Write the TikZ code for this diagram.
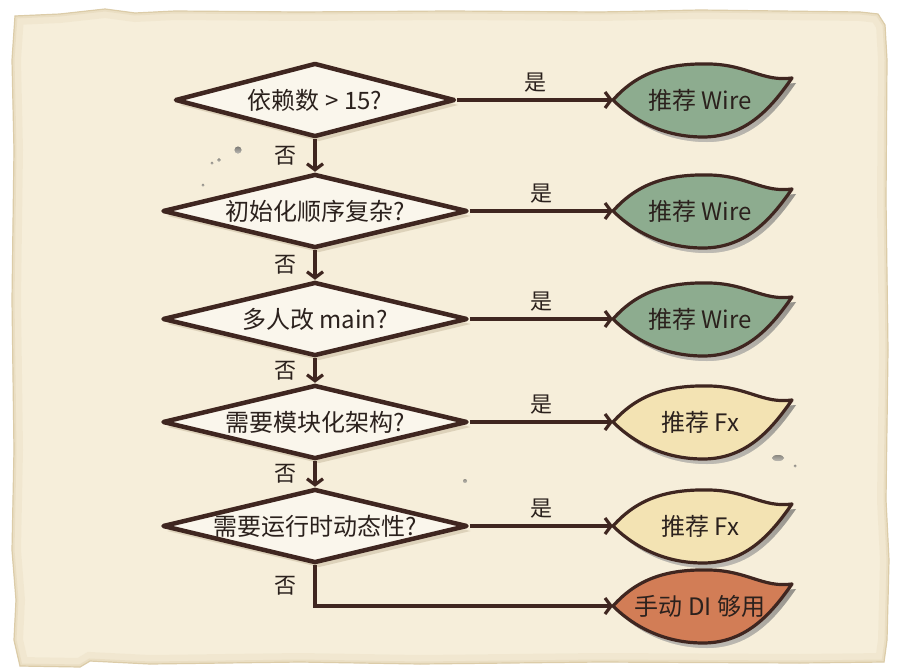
\documentclass[tikz,border=0pt]{standalone}
\usepackage{fontspec}
\setmainfont{Noto Sans CJK SC}
\usetikzlibrary{shapes.geometric,arrows.meta,shadows}
\definecolor{paper}{HTML}{F6EEDA}
\definecolor{paperedge}{HTML}{DCCCA8}
\definecolor{ink}{HTML}{3F2620}
\definecolor{txt}{HTML}{2B211D}
\definecolor{sage}{HTML}{8DAC8F}
\definecolor{cream}{HTML}{F3E3B3}
\definecolor{clay}{HTML}{D27D56}
\definecolor{shade}{HTML}{B9A98C}
\tikzset{
  papershape/.style={insert path={(15,16) -- (60,14) -- (105,9) -- (135,13) -- (175,11) -- (300,12) -- (450,11) -- (600,12) -- (700,10) -- (860,12) -- (878,14) -- (885,25) -- (887,60) -- (886,200) -- (888,350) -- (886,500) -- (889,560) -- (887,640) -- (884,662) -- (800,663) -- (600,662) -- (420,664) -- (300,662) -- (150,664) -- (90,661) -- (80,667) -- (20,666) -- (14,640) -- (16,600) -- (12,550) -- (14,450) -- (12,300) -- (14,150) -- (12,60) -- cycle}},
  leafp/.style={insert path={(0,0) .. controls (25,-28) and (55,-37) .. (97,-36) .. controls (135,-35) and (150,-18) .. (179,-22) .. controls (160,5) and (135,37) .. (90,37) .. controls (45,37) and (15,15) .. (0,0) -- cycle}},
  dec/.style={diamond, draw=ink, line width=4.5pt, line join=round, fill=paper!50!white,
    minimum width=305pt, minimum height=74pt, inner sep=0pt,
    drop shadow={shadow xshift=4pt, shadow yshift=-5pt, fill=shade, opacity=0.4}},
  dectxt/.style={font=\fontsize{24}{28}\selectfont, text=txt, inner sep=0pt},
  arr/.style={draw=ink, line width=3.2pt, -{Straight Barb[length=6pt,width=16pt]}},
  lab/.style={font=\fontsize{22}{26}\selectfont, text=txt, inner sep=0pt},
  leaftxt/.style={font=\fontsize{24}{28}\selectfont, text=txt, inner sep=0pt},
  leafline/.style={draw=ink, line width=3.2pt, line join=round},
}
\newcommand\leafat[4]{%
  \begin{scope}[shift={(#2)}]
    \fill[shade, opacity=0.4, shift={(4,5)}, leafp];
    \path[leafline, fill=#3, leafp];
    \coordinate (#1tip) at (0,0);
    \node[leaftxt] (#1) at (87,0) {#4};
  \end{scope}}
\begin{document}
\begin{tikzpicture}[x=1pt,y=-1pt]
\useasboundingbox (0,0) rectangle (900,672);
\fill[white] (0,0) rectangle (900,672);
% paper
\path[fill=paper, draw=paperedge, line width=1.2pt, papershape];
\begin{scope}
  \clip[papershape];
  \draw[paperedge, opacity=0.18, line width=18pt, papershape];
  \draw[paperedge, opacity=0.3, line width=5pt, papershape];
\end{scope}
% faint stains
\fill[shade, opacity=0.5] (238,150) circle (3.5);
\fill[shade, opacity=0.4] (219,160) circle (1.8);
\fill[shade, opacity=0.4] (212,163) circle (1.5);
\fill[shade, opacity=0.4] (203,185) circle (1.5);
\fill[shade, opacity=0.4] (778,458) ellipse (6 and 3);
\fill[shade, opacity=0.4] (795,466) circle (1.5);
\fill[shade, opacity=0.35] (465,481) circle (2);
% decisions
\node[dec, minimum width=280pt] (d1) at (315,100) {};
\node[dec] (d2) at (315,211) {};
\node[dec] (d3) at (315,319) {};
\node[dec] (d4) at (315,422) {};
\node[dec] (d5) at (315,526) {};
\node[dectxt] (q1) at (d1) {依赖数 > 15?};
\node[dectxt] (q2) at (d2) {初始化顺序复杂?};
\node[dectxt] (q3) at (d3) {多人改 main?};
\node[dectxt] (q4) at (d4) {需要模块化架构?};
\node[dectxt] (q5) at (d5) {需要运行时动态性?};
% results
\leafat{r1}{613,100}{sage}{推荐 Wire}
\leafat{r2}{613,211}{sage}{推荐 Wire}
\leafat{r3}{613,319}{sage}{推荐 Wire}
\leafat{r4}{613,422}{cream}{推荐 Fx}
\leafat{r5}{613,526}{cream}{推荐 Fx}
\leafat{r6}{613,606}{clay}{手动 DI 够用}
% yes arrows
\draw[arr] (d1.east) -- node[lab, midway, above=6pt] {是} (r1tip);
\draw[arr] (d2.east) -- node[lab, midway, above=6pt] {是} (r2tip);
\draw[arr] (d3.east) -- node[lab, midway, above=6pt] {是} (r3tip);
\draw[arr] (d4.east) -- node[lab, midway, above=6pt] {是} (r4tip);
\draw[arr] (d5.east) -- node[lab, midway, above=6pt] {是} (r5tip);
% no arrows
\draw[arr] (d1.south) -- node[lab, midway, left=17pt] {否} (d2.north);
\draw[arr] (d2.south) -- node[lab, midway, left=17pt] {否} (d3.north);
\draw[arr] (d3.south) -- node[lab, midway, left=17pt] {否} (d4.north);
\draw[arr] (d4.south) -- node[lab, midway, left=17pt] {否} (d5.north);
\draw[arr] (d5.south) |- node[lab, pos=0.25, left=17pt] {否} (r6tip);
\end{tikzpicture}
\end{document}
